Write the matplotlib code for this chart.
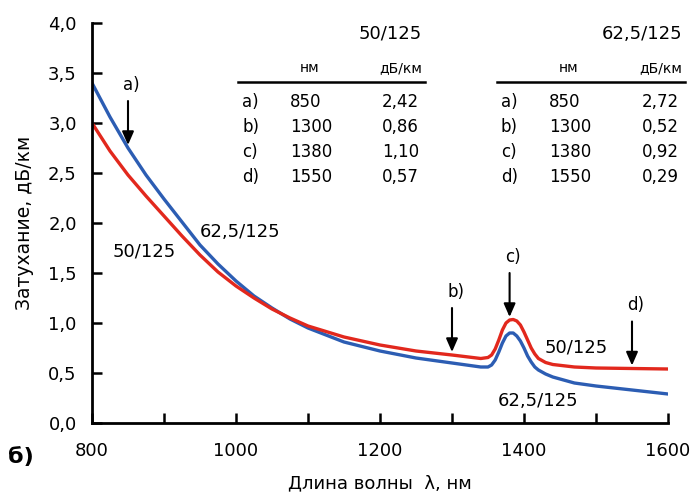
import numpy as np
import matplotlib
matplotlib.use("Agg")
import matplotlib.pyplot as plt

plt.rcParams["font.family"] = ["DejaVu Sans"]

# длина волны, нм
wl = [800, 825, 850, 875, 900, 925, 950, 975, 1000, 1025, 1050, 1075, 1100,
      1150, 1200, 1250, 1300, 1340, 1350, 1355, 1360, 1365, 1370, 1375, 1380,
      1385, 1390, 1395, 1400, 1405, 1410, 1415, 1420, 1430, 1440, 1470, 1500,
      1550, 1600]
# затухание, дБ/км
loss_50 = [3.00, 2.72, 2.48, 2.27, 2.07, 1.87, 1.68, 1.51, 1.37, 1.25, 1.14,
           1.05, 0.97, 0.86, 0.78, 0.72, 0.68, 0.645, 0.655, 0.68, 0.74, 0.83,
           0.93, 1.00, 1.03, 1.035, 1.02, 0.98, 0.91, 0.83, 0.75, 0.69, 0.645,
           0.605, 0.585, 0.56, 0.55, 0.545, 0.54]
loss_62 = [3.40, 3.06, 2.75, 2.48, 2.24, 2.01, 1.78, 1.59, 1.42, 1.27, 1.15,
           1.04, 0.95, 0.81, 0.72, 0.65, 0.60, 0.56, 0.56, 0.58, 0.63, 0.71,
           0.80, 0.87, 0.90, 0.90, 0.87, 0.82, 0.75, 0.67, 0.61, 0.56, 0.53,
           0.49, 0.46, 0.40, 0.37, 0.33, 0.29]

# таблицы
row_tags = ["a)", "b)", "c)", "d)"]
row_nm = [850, 1300, 1380, 1550]
db_50 = ["2,42", "0,86", "1,10", "0,57"]
db_62 = ["2,72", "0,52", "0,92", "0,29"]

W, H = 695, 495
RED, BLUE = "#e2281d", "#2c5db3"


def px(x, y):
    return x / W, 1 - y / H


fig = plt.figure(figsize=(W / 100, H / 100), dpi=100)
ax = fig.add_axes([92 / W, 1 - 423 / H, 576 / W, 400 / H])

ax.plot(wl, loss_62, color=BLUE, lw=2.4, solid_joinstyle="round")
ax.plot(wl, loss_50, color=RED, lw=2.4, solid_joinstyle="round")

ax.set_xlim(800, 1600)
ax.set_ylim(0, 4)
ax.set_xticks(np.arange(800, 1601, 100))
ax.set_xticklabels([str(v) if v % 200 == 0 else "" for v in range(800, 1601, 100)])
ax.set_yticks(np.arange(0, 4.01, 0.5))
ax.set_yticklabels([f"{v:.1f}".replace(".", ",") for v in np.arange(0, 4.01, 0.5)])
ax.tick_params(direction="in", length=7, width=1.8, labelsize=13)
ax.tick_params(axis="y", pad=11)
ax.tick_params(axis="x", pad=14)
for s in ["top", "right"]:
    ax.spines[s].set_visible(False)
for s in ["left", "bottom"]:
    ax.spines[s].set_linewidth(2)

ax.set_xlabel("Длина волны  λ, нм", fontsize=13, labelpad=10)
ax.set_ylabel("Затухание, дБ/км", fontsize=13.5, labelpad=10)
fig.text(*px(8, 457), "б)", fontsize=16, fontweight="bold", va="center")

# стрелки a)-d)
upper = np.maximum(loss_50, loss_62)
for tag, nm in zip(row_tags, row_nm):
    tip = np.interp(nm, wl, upper) + 0.03
    ax.annotate("", xy=(nm, tip), xytext=(nm, tip + 0.44),
                arrowprops=dict(arrowstyle="-|>,head_width=0.35,head_length=0.8",
                                color="black", lw=1.5, shrinkA=0, shrinkB=0))
    ax.text(nm + 5, tip + 0.60, tag, fontsize=12, ha="center", va="center")

# подписи кривых
ax.text(950, 1.91, "62,5/125", fontsize=13, ha="left", va="center")
ax.text(828, 1.71, "50/125", fontsize=13, ha="left", va="center")
ax.text(1429, 0.75, "50/125", fontsize=13, ha="left", va="center")
ax.text(1364, 0.22, "62,5/125", fontsize=13, ha="left", va="center")

# таблицы значений
for title, vals, x0, x1 in [("50/125", db_50, 238, 425), ("62,5/125", db_62, 497, 685)]:
    fig.text(*px(x1 - 3, 34), title, fontsize=13, ha="right", va="center")
    fig.text(*px(x0 + 72, 68), "нм", fontsize=10, ha="center", va="center")
    fig.text(*px(x1 - 3, 68), "дБ/км", fontsize=10, ha="right", va="center")
    fig.add_artist(plt.Line2D([x0 / W, x1 / W], [1 - 82 / H] * 2, color="black", lw=1.8))
    for i, (tag, nm, v) in enumerate(zip(row_tags, row_nm, vals)):
        y = 102 + i * 25
        fig.text(*px(x0 + 4, y), tag, fontsize=12, ha="left", va="center")
        fig.text(*px(x0 + 52, y), str(nm), fontsize=12, ha="left", va="center")
        fig.text(*px(x1 - 6, y), v, fontsize=12, ha="right", va="center")

fig.savefig("out.png", dpi=100)
